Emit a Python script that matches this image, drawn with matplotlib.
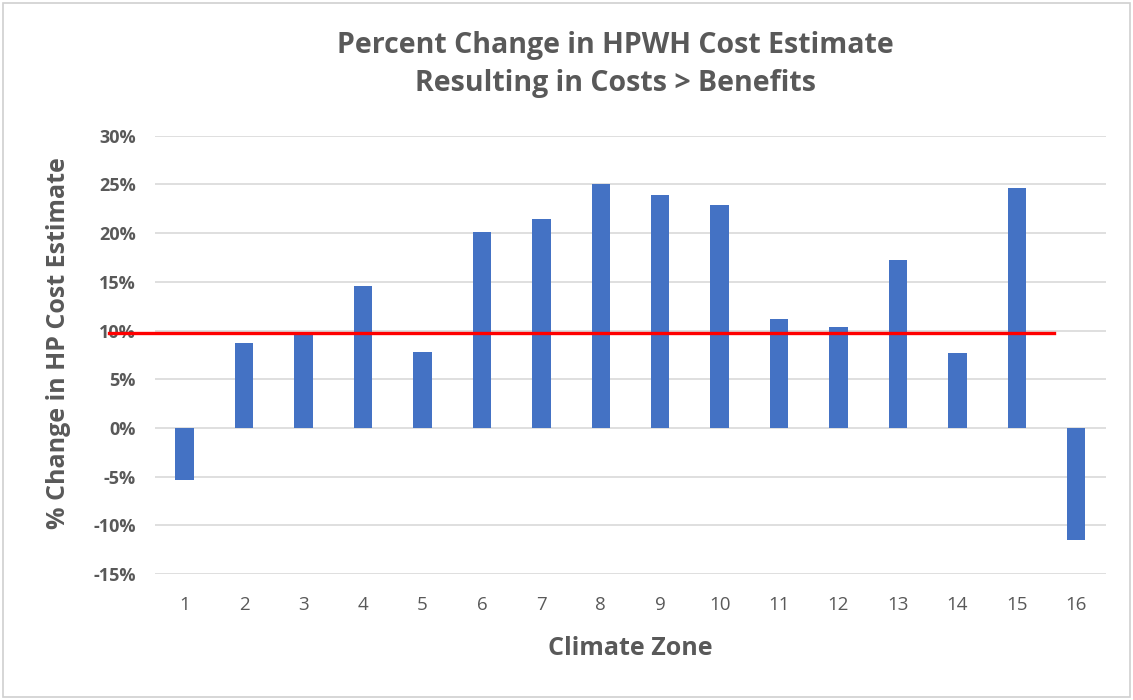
import numpy as np
import matplotlib.pyplot as plt
from matplotlib.patches import Rectangle
from matplotlib.ticker import FuncFormatter

plt.rcParams['font.family'] = ['Open Sans', 'DejaVu Sans']

zones = [str(i) for i in range(1, 17)]
pct_change = [-5.3, 8.7, 9.8, 14.6, 7.8, 20.1, 21.5, 25.1, 23.9, 22.9,
              11.2, 10.4, 17.2, 7.7, 24.6, -11.5]
threshold = 9.8
y_ticks = [-15, -10, -5, 0, 5, 10, 15, 20, 25, 30]

text_grey = '#595959'

fig = plt.figure(figsize=(11.33, 7.0), dpi=100)
fig.patches.append(Rectangle((0.003, 0.004), 0.994, 0.992, transform=fig.transFigure,
                             fill=False, edgecolor='#D0D0D0', linewidth=1.2))
ax = fig.add_axes([0.1368, 0.18, 0.8393, 0.626])

x = np.arange(len(zones))
ax.bar(x, pct_change, width=0.31, color='#4472C4', zorder=3)

# threshold line (runs past the left axis like the original)
ax.plot([-1.28, 14.63], [threshold, threshold], color='#FF0000',
        linewidth=2.4, zorder=4, clip_on=False)

ax.set_xlim(-0.5, 15.5)
ax.set_ylim(-15, 30)
ax.set_yticks(y_ticks)
ax.yaxis.set_major_formatter(FuncFormatter(lambda v, p: f'{v:.0f}%'))
ax.set_xticks(x)
ax.set_xticklabels(zones)
ax.grid(axis='y', color='#D9D9D9', linewidth=1.2, zorder=0)
for s in ax.spines.values():
    s.set_visible(False)
ax.tick_params(length=0)
ax.tick_params(axis='y', labelsize=13, labelcolor=text_grey, pad=14)
ax.tick_params(axis='x', labelsize=13.5, labelcolor=text_grey, pad=16)
for lbl in ax.get_yticklabels():
    lbl.set_fontweight('bold')

fig.text(0.543, 0.935, 'Percent Change in HPWH Cost Estimate', ha='center',
         va='center', fontsize=20.5, fontweight='bold', color=text_grey)
fig.text(0.543, 0.880, 'Resulting in Costs > Benefits', ha='center',
         va='center', fontsize=20.5, fontweight='bold', color=text_grey)
fig.text(0.052, 0.51, '% Change in HP Cost Estimate', ha='center', va='center',
         rotation=90, fontsize=18, fontweight='bold', color=text_grey)
fig.text(0.556, 0.073, 'Climate Zone', ha='center', va='center',
         fontsize=18, fontweight='bold', color=text_grey)

fig.savefig('out.png', dpi=100)
